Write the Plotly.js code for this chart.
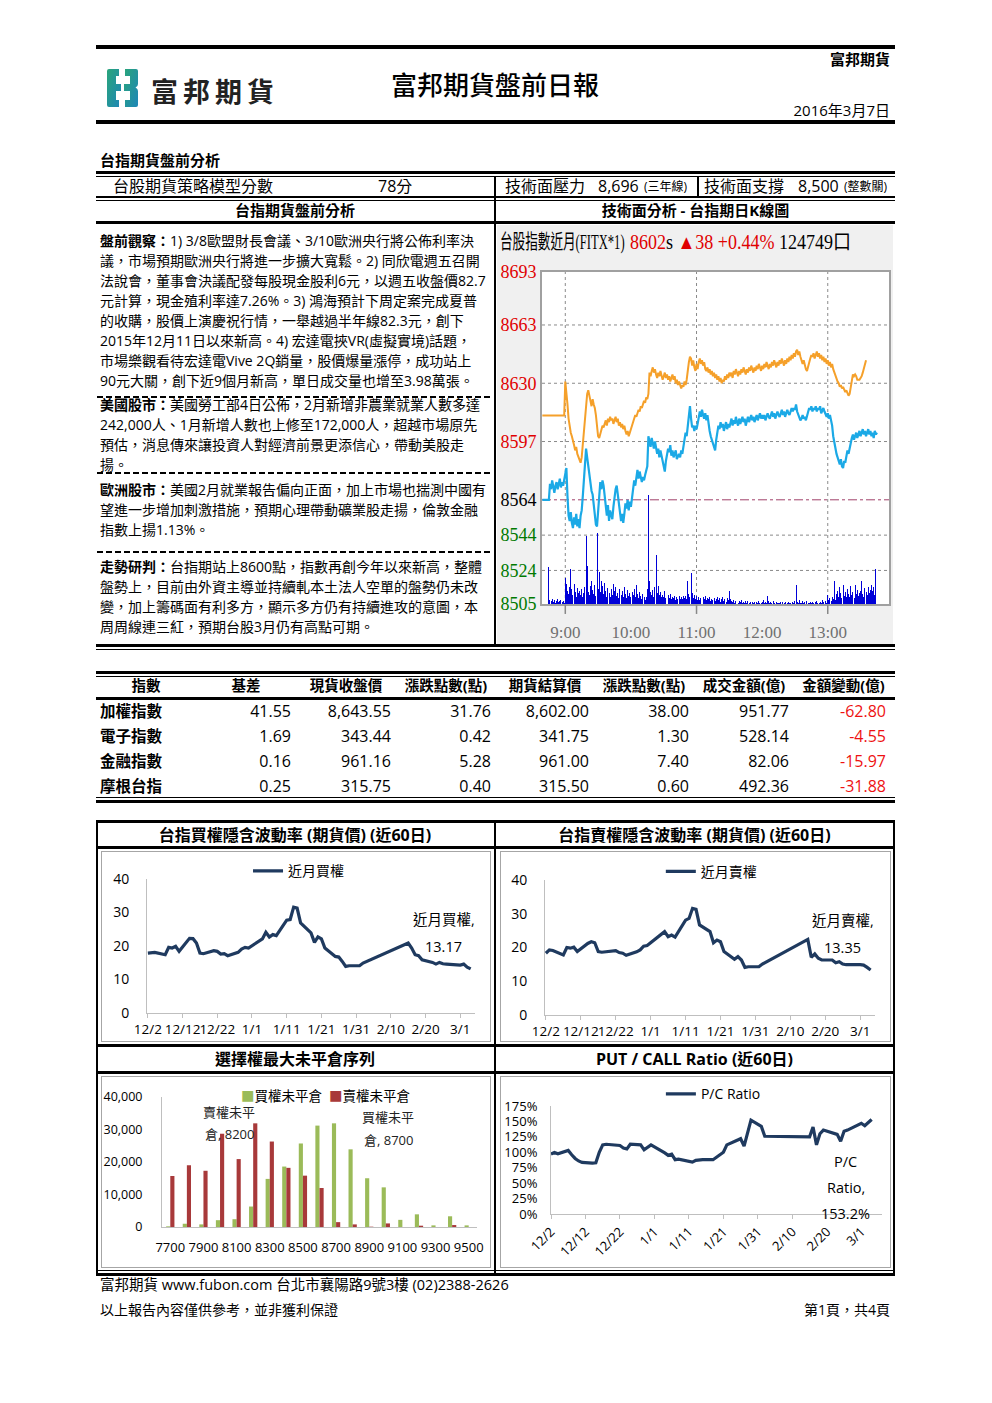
<!DOCTYPE html>
<html lang="zh-Hant"><head><meta charset="utf-8">
<script src="https://cdn.plot.ly/plotly-3.0.1.min.js"></script>
<style>
html,body{margin:0;padding:0;background:#fff;}
#page{position:relative;width:992px;height:1403px;overflow:hidden;font-family:"Open Sans","Noto Sans CJK TC",sans-serif;color:#000;}
.a{position:absolute;white-space:nowrap;line-height:20px;}
.k{position:absolute;background:#000;}
.dash{position:absolute;height:2px;background:repeating-linear-gradient(90deg,#000 0 6px,transparent 6px 9px);}
.box{position:absolute;border:1px solid #a6a6a6;box-sizing:border-box;}
.p{position:absolute;left:100px;font-size:14px;white-space:nowrap;}
.p div{height:20px;line-height:20px;}
.c{position:absolute;}
</style></head><body><div id="page">

<!-- ===== header ===== -->
<div class="k" style="left:96px;top:45px;width:799px;height:4px"></div>
<div class="a" style="right:102px;top:49px;font-size:15px;font-weight:700;">富邦期貨</div>
<svg class="c" style="left:107px;top:69px" width="32" height="38" viewBox="0 0 32 38">
 <defs><linearGradient id="lg" x1="0" y1="0" x2="1" y2="1"><stop offset="0" stop-color="#2aa57a"/><stop offset="1" stop-color="#1e86b8"/></linearGradient></defs>
 <path d="M2 0 H12 V7 H9 V15 H14 V22 H9 V31 H12 V38 H2 Q0 38 0 36 V2 Q0 0 2 0Z" fill="url(#lg)"/>
 <path d="M18 0 H29 Q31 0 31 2 V15 Q31 17.5 28.5 18.5 Q31 19.5 31 22 V36 Q31 38 29 38 H18 V31 H23 V22 H17 V15 H23 V7 H18Z" fill="url(#lg)"/>
</svg>
<div class="a" style="left:151px;top:76px;font-size:27px;line-height:32px;font-weight:700;letter-spacing:5px;color:#222;">富邦期貨</div>
<div class="a" style="left:0;width:990px;text-align:center;top:69px;font-size:26px;line-height:32px;font-weight:500;">富邦期貨盤前日報</div>
<div class="a" style="right:102px;top:100px;font-size:15px;">2016年3月7日</div>
<div class="k" style="left:96px;top:120px;width:799px;height:4px"></div>

<!-- ===== analysis section ===== -->
<div class="a" style="left:100px;top:150px;font-size:15px;font-weight:700;">台指期貨盤前分析</div>
<div class="k" style="left:96px;top:171px;width:799px;height:3px"></div>
<div class="k" style="left:96px;top:176px;width:799px;height:1px"></div>
<div class="a" style="left:113px;top:176px;font-size:16px;">台股期貨策略模型分數</div>
<div class="a" style="left:378px;top:176px;font-size:16px;">78分</div>
<div class="a" style="left:505px;top:176px;font-size:16px;">技術面壓力</div>
<div class="a" style="left:598px;top:176px;font-size:16px;">8,696</div>
<div class="a" style="left:644px;top:177px;font-size:12px;">(三年線)</div>
<div class="a" style="left:704px;top:176px;font-size:16px;">技術面支撐</div>
<div class="a" style="left:798px;top:176px;font-size:16px;">8,500</div>
<div class="a" style="left:844px;top:177px;font-size:12px;">(整數關)</div>
<div class="k" style="left:697px;top:176px;width:2px;height:21px"></div>
<div class="k" style="left:96px;top:196px;width:799px;height:2px"></div>
<div class="k" style="left:96px;top:200px;width:799px;height:1px"></div>
<div class="a" style="left:96px;width:398px;text-align:center;top:200px;font-size:15px;font-weight:700;">台指期貨盤前分析</div>
<div class="a" style="left:496px;width:399px;text-align:center;top:200px;font-size:15px;font-weight:700;">技術面分析 - 台指期日K線圖</div>
<div class="k" style="left:96px;top:221px;width:799px;height:3px"></div>
<div class="k" style="left:494px;top:176px;width:2px;height:470px"></div>

<div class="p" style="top:231px">
<div><b>盤前觀察：</b>1) 3/8歐盟財長會議、3/10歐洲央行將公佈利率決</div>
<div>議，市場預期歐洲央行將進一步擴大寬鬆。2) 同欣電週五召開</div>
<div>法說會，董事會決議配發每股現金股利6元，以週五收盤價82.7</div>
<div>元計算，現金殖利率達7.26%。3) 鴻海預計下周定案完成夏普</div>
<div>的收購，股價上演慶祝行情，一舉越過半年線82.3元，創下</div>
<div>2015年12月11日以來新高。4) 宏達電挾VR(虛擬實境)話題，</div>
<div>市場樂觀看待宏達電Vive 2Q銷量，股價爆量漲停，成功站上</div>
<div>90元大關，創下近9個月新高，單日成交量也增至3.98萬張。</div>
</div>
<div class="dash" style="left:97px;top:396px;width:396px"></div>
<div class="p" style="top:395px">
<div><b>美國股市：</b>美國勞工部4日公佈，2月新增非農業就業人數多達</div>
<div>242,000人、1月新增人數也上修至172,000人，超越市場原先</div>
<div>預估，消息傳來讓投資人對經濟前景更添信心，帶動美股走</div>
<div>揚。</div>
</div>
<div class="dash" style="left:97px;top:472px;width:396px"></div>
<div class="p" style="top:480px">
<div><b>歐洲股市：</b>美國2月就業報告偏向正面，加上市場也揣測中國有</div>
<div>望進一步增加刺激措施，預期心理帶動礦業股走揚，倫敦金融</div>
<div>指數上揚1.13%。</div>
</div>
<div class="dash" style="left:97px;top:551px;width:396px"></div>
<div class="p" style="top:557px">
<div><b>走勢研判：</b>台指期站上8600點，指數再創今年以來新高，整體</div>
<div>盤勢上，目前由外資主導並持續軋本土法人空單的盤勢仍未改</div>
<div>變，加上籌碼面有利多方，顯示多方仍有持續進攻的意圖，本</div>
<div>周周線連三紅，預期台股3月仍有高點可期。</div>
</div>

<!-- intraday chart -->
<div id="intra" class="c" style="left:497px;top:225px;width:396px;height:420px"></div>
<div class="a" style="left:500px;top:230px;font-family:'Liberation Serif','Noto Sans CJK TC',serif;font-size:20px;line-height:24px;transform:scaleX(0.63);transform-origin:0 0;">台股指數近月(FITX*1)</div>
<div id="intraHead" class="a" style="left:630px;top:230px;font-family:'Liberation Serif','Noto Sans CJK TC',serif;font-size:20px;line-height:24px;transform:scaleX(0.9);transform-origin:0 0;"></div>

<div class="k" style="left:96px;top:644px;width:799px;height:3px"></div>
<div class="k" style="left:96px;top:649px;width:799px;height:1px"></div>

<!-- ===== table ===== -->
<div class="k" style="left:96px;top:671px;width:799px;height:3px"></div>
<div class="k" style="left:96px;top:676px;width:799px;height:1px"></div>
<div id="tbl"></div>
<div class="k" style="left:96px;top:697px;width:799px;height:3px"></div>
<div class="k" style="left:96px;top:797px;width:799px;height:1px"></div>
<div class="k" style="left:96px;top:800px;width:799px;height:3px"></div>

<!-- ===== charts grid ===== -->
<div class="k" style="left:96px;top:820px;width:799px;height:3px"></div>
<div class="a" style="left:96px;width:398px;text-align:center;top:825px;font-size:16px;font-weight:700;">台指買權隱含波動率 (期貨價) (近60日)</div>
<div class="a" style="left:496px;width:397px;text-align:center;top:825px;font-size:16px;font-weight:700;">台指賣權隱含波動率 (期貨價) (近60日)</div>
<div class="k" style="left:96px;top:846px;width:799px;height:3px"></div>
<div class="box" style="left:101px;top:851px;width:390px;height:191px"></div>
<div class="box" style="left:500px;top:851px;width:391px;height:191px"></div>
<div id="callIV" class="c" style="left:102px;top:852px;width:388px;height:189px"></div>
<div id="putIV" class="c" style="left:501px;top:852px;width:389px;height:189px"></div>
<div class="k" style="left:96px;top:1044px;width:799px;height:3px"></div>
<div class="a" style="left:96px;width:398px;text-align:center;top:1049px;font-size:16px;font-weight:700;">選擇權最大未平倉序列</div>
<div class="a" style="left:496px;width:397px;text-align:center;top:1049px;font-size:16px;font-weight:700;">PUT / CALL Ratio (近60日)</div>
<div class="k" style="left:96px;top:1071px;width:799px;height:3px"></div>
<div class="box" style="left:101px;top:1076px;width:390px;height:192px"></div>
<div class="box" style="left:500px;top:1076px;width:391px;height:192px"></div>
<div id="oi" class="c" style="left:102px;top:1077px;width:388px;height:190px"></div>
<div id="pc" class="c" style="left:501px;top:1077px;width:389px;height:190px"></div>
<div class="k" style="left:96px;top:820px;width:2px;height:455px"></div>
<div class="k" style="left:494px;top:820px;width:2px;height:455px"></div>
<div class="k" style="left:893px;top:820px;width:2px;height:455px"></div>
<div class="k" style="left:96px;top:1270px;width:799px;height:1px"></div>
<div class="k" style="left:96px;top:1273px;width:799px;height:3px"></div>

<!-- footer -->
<div class="a" style="left:100px;top:1275px;font-size:14.5px;">富邦期貨 www.fubon.com 台北市襄陽路9號3樓 (02)2388-2626</div>
<div class="a" style="left:100px;top:1300px;font-size:14px;">以上報告內容僅供參考，並非獲利保證</div>
<div class="a" style="right:102px;top:1300px;font-size:14px;">第1頁，共4頁</div>
</div>

<script>
// ================= DATA =================
// Intraday (minutes since midnight, 1-minute steps)
const futStart = 519;
const futPrice = [
 8564,8564,8564,8564,8564,8564,8564,
 8573,8570,8575,8571,8568,8572,8574,8570,8573,8576,8571,8574,8572,8575,
 8580,8582,8566,8555,8552,8557,
 8551,8548,8554,8550,8556,8549,8553,8548,8555,8558,
 8566,8576,8586,8593,8588,
 8583,8578,8572,8569,
 8567,8562,8556,8550,8549,8559,
 8568,8574,8570,8575,8572,8566,
 8560,8555,8561,8552,8558,8556,8553,
 8560,8566,8570,8572,8567,8562,
 8558,8552,8556,8551,8556,
 8562,8559,8564,8558,8563,8560,8565,
 8570,8575,8572,8578,8581,8576,8580,8577,8574,
 8577,8575,8578,8580,8583,
 8600,
 8597,8594,8599,8596,8593,8597,8594,
 8590,8593,8588,8592,8589,8586,
 8583,8580,8586,8590,
 8593,8591,8595,8589,8592,8588,8590,8592,8587,8589,
 8590,8588,8592,8590,8595,8598,8602,
 8600,8606,8612,8617,8610,
 8605,8606,8603,8606,8604,8607,
 8612,8614,8611,8615,8612,8610,8613,8609,8612,8606,
 8603,8600,8598,8596,8594,8592,
 8598,8603,8606,8604,8608,8605,8607,8603,8606,8608,8604,8607,
 8605,8608,8610,8606,8609,8607,8611,8608,8606,8610,8607,8609,8611,8608,8610,8606,
 8609,8611,8608,8610,8612,8609,8611,8608,8610,8612,8609,8611,8613,8610,8612,
 8610,8612,8609,8611,8613,8611,8610,8612,8614,8611,8613,8610,8612,8614,8612,
 8611,8613,8615,8612,8614,8611,8613,8615,8613,8612,8614,8616,8614,8616,8615,
 8618,8614,8612,8611,8609,
 8610,8612,8610,8611,8609,
 8612,8614,8616,8615,8617,8614,
 8616,8615,8617,8614,8616,8615,8617,8613,8615,8616,8614,
 8612,8611,8613,8610,8612,8609,8606,
 8600,8596,8592,8590,8588,8586,8584,8587,8583,8582,
 8586,8585,8589,8592,8590,8594,8596,8599,8601,
 8598,8600,8602,8599,8601,8603,8600,8602,8604,8601,8603,8600,
 8602,8604,8601,8603,8600,8602,8599,8603,8601,8602
];
const spotStart = 519;
const spotPrice = [
 8611.79,8611.79,8611.79,8611.79,8611.79,8611.79,8611.79,8611.79,8611.79,8611.79,8611.79,
 8611.79,8611.79,8611.79,8611.79,8611.79,8611.79,8611.79,8611.79,8611.79,8611.79,
 8631,8626,8618,8610,8605,8602,
 8600,8598,8595,8592,8594,8590,8588,8586,8585,8588,
 8595,8603,8612,8620,8624,
 8626,8622,8620,8617,8621,8618,
 8616,8612,8604,8600,
 8599,8602,8604,8606,8605,
 8607,8609,8606,8610,8608,8611,8609,8610,8607,8609,8611,8608,8610,8606,8608,
 8605,8607,8604,8606,8603,8601,8603,8600,8602,8604,
 8606,8608,8610,8612,8611,8613,8615,8614,8617,8616,8618,8620,8619,8622,8621,8624,
 8636,
 8634,8637,8639,8636,8638,8635,8633,8636,8634,8637,8635,8632,8634,8636,8633,
 8635,8632,8634,8631,8633,8635,8632,8634,8630,8632,8629,8631,
 8629,8627,8629,8628,8631,8629,8632,
 8638,8642,8645,8644,8640,8643,8639,8637,8641,
 8638,8642,8644,8641,8643,8640,8642,8638,
 8637,8639,8636,8638,8635,8637,8634,8636,8633,8635,8632,8634,8631,8633,8630,8632,8631,8634,8632,8635,8633,8636,
 8634,8636,8633,8637,8635,8638,8636,8634,8637,8635,8638,8636,8639,8637,8635,
 8638,8636,8639,8637,8640,8638,8636,8639,8637,8640,8638,8641,8639,8637,8640,
 8638,8641,8639,8642,8640,8638,8641,8639,8642,8640,8643,8641,8639,8642,8640,
 8643,8641,8644,8642,8640,8643,8641,8644,8642,8645,8643,8646,8644,8647,8645,
 8648,8649,8646,8648,8645,8643,
 8641,8643,8640,8638,8637,8640,8642,8644,8646,
 8645,8647,8644,8646,8648,8645,8647,8644,8646,8643,8645,8642,
 8644,8641,8643,8640,8642,8639,8641,8638,8636,
 8634,8633,8631,8630,8628,8629,8627,8628,8626,8625,8626,8624,8623,8624,
 8628,8632,8635,8634,8635,8634,
 8632,8632,8632,8633,8634,
 8636,8639,8641,8643
];
const volStart = 525;
const volume = [
 1580,180,120,210,90,150,60,130,200,80,110,170,90,140,60,
 1100,840,560,420,700,1470,620,380,840,520,300,680,450,560,390,
 620,280,450,700,2850,1600,520,380,760,980,600,440,820,350,2980,
 640,1370,500,980,760,420,880,560,300,680,450,280,620,380,840,
 560,720,350,480,260,620,380,540,300,700,420,250,580,330,460,
 280,520,360,640,300,810,420,260,500,350,200,420,280,160,300,
 650,4600,950,520,380,600,300,720,2070,450,740,360,520,280,400,
 300,560,240,1020,380,260,420,200,300,250,340,180,290,220,330,
 210,280,190,320,240,350,200,980,420,300,1300,450,250,380,200,
 320,180,280,150,240,700,300,200,350,160,260,200,310,140,230,
 180,260,120,220,300,150,240,100,200,280,130,190,90,250,160,
 560,220,120,80,180,60,140,100,40,120,70,150,50,90,30,
 110,60,140,40,80,20,100,50,70,0,90,40,120,60,30,
 80,150,40,100,60,350,120,50,90,30,110,60,20,80,40,
 60,30,90,0,70,40,100,20,60,90,30,50,0,80,40,
 120,800,90,40,150,60,30,110,50,80,20,140,60,30,90,
 40,100,60,20,80,130,50,30,90,40,160,70,20,110,60,
 380,150,240,120,300,200,950,180,420,560,300,700,450,260,810,
 350,520,280,640,420,300,760,380,520,250,810,440,600,330,480,
 560,950,420,300,680,520,380,700,450,600,820,550,700,400,1470
];
const refPrice = 8564;
const futLast = 8602, futChange = 38, futPct = 0.44, futVolume = 124749;
const priceTicks = [8693, 8663, 8630, 8597, 8564, 8544, 8524, 8505];
const timeTickVals = [540, 600, 660, 720, 780];
const timeTickText = ['9:00', '10:00', '11:00', '12:00', '13:00'];
const timeGridVals = [540, 660, 780];

// Table
const tblHeaders = ['指數','基差','現貨收盤價','漲跌點數(點)','期貨結算價','漲跌點數(點)','成交金額(億)','金額變動(億)'];
const tblIndex = ['加權指數','電子指數','金融指數','摩根台指'];
const tblBasis = [41.55, 1.69, 0.16, 0.25];
const tblSpot = [8643.55, 343.44, 961.16, 315.75];
const tblSpotChg = [31.76, 0.42, 5.28, 0.40];
const tblFut = [8602.00, 341.75, 961.00, 315.50];
const tblFutChg = [38.00, 1.30, 7.40, 0.60];
const tblAmount = [951.77, 528.14, 82.06, 492.36];
const tblAmtChg = [-62.80, -4.55, -15.97, -31.88];

// Implied volatility & P/C ratio (trading days)
const ivDates = ['2015-12-02','2015-12-03','2015-12-04','2015-12-07','2015-12-08','2015-12-09','2015-12-10','2015-12-11',
 '2015-12-14','2015-12-15','2015-12-16','2015-12-17','2015-12-18','2015-12-21','2015-12-22','2015-12-23','2015-12-24','2015-12-25',
 '2015-12-28','2015-12-29','2015-12-30','2015-12-31',
 '2016-01-04','2016-01-05','2016-01-06','2016-01-07','2016-01-08','2016-01-11','2016-01-12','2016-01-13','2016-01-14','2016-01-15',
 '2016-01-18','2016-01-19','2016-01-20','2016-01-21','2016-01-22','2016-01-25','2016-01-26','2016-01-27','2016-01-28','2016-01-29',
 '2016-02-01','2016-02-02','2016-02-15','2016-02-16','2016-02-17','2016-02-18','2016-02-19','2016-02-22','2016-02-23','2016-02-24',
 '2016-02-25','2016-02-26','2016-03-01','2016-03-02','2016-03-03','2016-03-04'];
const callIV = [17.9,18.1,18.1,17.4,19.6,19.4,19.9,18.4,22.3,22.2,20.9,17.9,17.7,18.6,18.4,17.6,17.7,17.1,18.1,19.1,19.6,19.4,
 22.1,24.1,22.7,23.4,23.1,27.7,27.9,31.6,31.3,26.9,23.9,21.1,22.7,22.1,19.4,16.9,16.7,15.4,13.9,14.1,
 14.1,14.9,20.9,19.4,17.4,17.1,15.9,15.1,14.6,15.1,14.7,14.6,14.3,14.6,13.7,13.17];
const putIV = [18.3,19.3,19.1,17.8,20.0,19.8,20.1,18.8,21.2,21.7,21.4,18.8,18.6,19.0,19.1,18.5,18.3,17.7,18.7,19.3,20.4,20.6,
 23.7,24.7,23.2,23.7,23.1,28.1,28.6,31.6,31.3,26.7,24.7,21.4,22.2,21.7,18.8,16.5,17.3,16.3,14.1,14.3,
 14.3,15.1,22.4,17.1,18.1,16.8,16.3,16.3,15.5,15.8,15.1,14.9,14.9,14.8,14.1,13.35];
const pcRatio = [97,99.6,97.5,103,96,90,86,83.5,82.5,83,100,112,113,112,111,107,105.5,113,112,104,108,112,
 99,95,97,88,89,86,84,87,88,88,88,92,95,100,112,120,122,110,130,152,
 142,126,125,141,112,130,136,131,129,118,134,136,147,143,148,153.2];
const dateTickVals = ['2015-12-02','2015-12-12','2015-12-22','2016-01-01','2016-01-11','2016-01-21','2016-01-31','2016-02-10','2016-02-20','2016-03-01'];
const dateTickText = ['12/2','12/12','12/22','1/1','1/11','1/21','1/31','2/10','2/20','3/1'];

// Open interest by strike
const strikes = [7700,7800,7900,8000,8100,8200,8300,8400,8500,8600,8700,8800,8900,9000,9100,9200,9300,9400,9500];
const callOI = [200,1000,800,2100,2400,6300,14800,18600,25700,31200,31900,23900,15000,12200,2200,3900,500,3300,500];
const putOI = [15700,19000,17300,28700,20900,31900,26300,18200,15800,12000,1500,800,100,1100,0,400,0,600,0];
const strikeLabels = [7700,7900,8100,8300,8500,8700,8900,9100,9300,9500];

// ================= RENDER =================
const CFG = {staticPlot: true};
const SANS = 'Open Sans, Noto Sans CJK TC, sans-serif';
const SERIF = 'Liberation Serif, serif';
const idx = (start, arr) => arr.map((_, i) => start + i);

// header of intraday chart
document.getElementById('intraHead').innerHTML =
  '<span style="color:#e00000">' + futLast + '</span>s <span style="color:#e00000">▲' + futChange +
  ' +' + futPct.toFixed(2) + '%</span> ' + futVolume + '口';

(function intraday() {
  const up = '#e00000', dn = '#007a00';
  const tickText = priceTicks.map(v => '<span style="color:' + (v > refPrice ? up : v < refPrice ? dn : '#000') + '">' + v + '</span>');
  const shapes = [];
  priceTicks.slice(1, -1).forEach(v => {
    shapes.push({type: 'line', xref: 'paper', x0: 0, x1: 1, yref: 'y', y0: v, y1: v, layer: 'below',
      line: v === refPrice ? {color: '#a0406a', width: 1, dash: 'dashdot'} : {color: '#8a8a8a', width: 1, dash: 'dot'}});
  });
  timeGridVals.forEach(t => {
    shapes.push({type: 'line', xref: 'x', x0: t, x1: t, yref: 'paper', y0: 0, y1: 1, layer: 'below', line: {color: '#8a8a8a', width: 1, dash: 'dot'}});
    shapes.push({type: 'line', xref: 'x', x0: t, x1: t, yref: 'paper', y0: -0.002, y1: -0.03, line: {color: '#888', width: 1.5}});
  });
  const traces = [
    {type: 'bar', x: idx(volStart, volume), y: volume, yaxis: 'y2', width: 0.9, marker: {color: '#0000d8', line: {width: 0}}},
    {type: 'scatter', mode: 'lines', x: idx(spotStart, spotPrice), y: spotPrice, line: {color: '#f5a02a', width: 2}},
    {type: 'scatter', mode: 'lines', x: idx(futStart, futPrice), y: futPrice, line: {color: '#1ba9e6', width: 2.2}}
  ];
  const layout = {
    width: 396, height: 420, margin: {l: 44.7, r: 4, t: 46.7, b: 41, pad: 0, autoexpand: false},
    paper_bgcolor: '#f0f0f0', plot_bgcolor: '#fff', showlegend: false, shapes: shapes,
    xaxis: {range: [518.7, 836], tickmode: 'array', tickvals: timeTickVals, ticktext: timeTickText, showgrid: false, zeroline: false,
      ticks: 'outside', ticklen: 12, tickcolor: 'rgba(0,0,0,0)', tickangle: 0,
      tickfont: {family: SERIF, size: 17, color: '#707070'}, showline: true, mirror: true, linecolor: '#a0a0a0', linewidth: 2},
    yaxis: {range: [8505, 8693], tickmode: 'array', tickvals: priceTicks, ticktext: tickText, showgrid: false, zeroline: false,
      tickfont: {family: SERIF, size: 18}, showline: true, mirror: true, linecolor: '#a0a0a0', linewidth: 2, ticks: ''},
    yaxis2: {overlaying: 'y', range: [0, 14000], visible: false},
    bargap: 0
  };
  Plotly.newPlot('intra', traces, layout, CFG);
})();

// table
(function table() {
  const host = document.getElementById('tbl');
  const colL = [96, 196, 296, 396, 496, 594, 694, 794];
  const colW = [100, 100, 100, 100, 98, 100, 100, 99];
  const fmt = v => v.toLocaleString('en-US', {minimumFractionDigits: 2, maximumFractionDigits: 2});
  const add = (html, left, width, cy, style) => {
    const d = document.createElement('div');
    d.className = 'a';
    d.style.cssText = 'left:' + left + 'px;width:' + width + 'px;top:' + (cy - 10) + 'px;' + style;
    d.innerHTML = html; host.appendChild(d);
  };
  tblHeaders.forEach((h, i) => add(h, colL[i], colW[i], 686, 'text-align:center;font-size:14.5px;font-weight:700;'));
  const cols = [tblBasis, tblSpot, tblSpotChg, tblFut, tblFutChg, tblAmount, tblAmtChg];
  tblIndex.forEach((name, r) => {
    const cy = 711 + r * 25;
    add(name, 100, 96, cy, 'font-size:15.5px;font-weight:700;');
    cols.forEach((col, c) => {
      const v = col[r];
      add(fmt(v), colL[c + 1], colW[c + 1] - (c === 6 ? 7 : 5), cy,
        'text-align:right;font-size:16px;' + (v < 0 ? 'color:#ee1111;' : ''));
    });
  });
})();

// implied volatility charts
function ivChart(id, name, vals, m, legX, legY, lblDx) {
  const last = vals.length - 1;
  const layout = {
    width: m.w, height: 189, margin: {l: m.l, r: m.r, t: m.t, b: m.b, pad: 0, autoexpand: false},
    paper_bgcolor: '#fff', plot_bgcolor: '#fff', font: {family: SANS, size: 14, color: '#000'},
    showlegend: true,
    legend: {orientation: 'h', x: legX, y: legY, xanchor: 'left', yanchor: 'middle', font: {size: 14}, itemwidth: 30, bgcolor: 'rgba(0,0,0,0)', borderwidth: 0},
    xaxis: {type: 'date', range: ['2015-12-01 18:00', '2016-03-05 06:00'], tickmode: 'array', tickvals: dateTickVals, ticktext: dateTickText,
      tickangle: 0, ticks: 'outside', ticklen: 4, tickcolor: '#bfbfbf', showline: true, linecolor: '#bfbfbf', linewidth: 1,
      showgrid: false, zeroline: false, tickfont: {size: 13.5}},
    yaxis: {range: [0, 40], dtick: 10, showline: true, linecolor: '#bfbfbf', linewidth: 1, showgrid: false, zeroline: false,
      ticks: 'outside', ticklen: 14, tickcolor: 'rgba(0,0,0,0)', tickfont: {size: 14}},
    annotations: [
      {x: ivDates[last], y: vals[last], text: name + ',', showarrow: false, xshift: lblDx, yshift: 49, font: {size: 14.5}},
      {x: ivDates[last], y: vals[last], text: vals[last].toFixed(2), showarrow: false, xshift: lblDx, yshift: 22.5, font: {size: 14.5}}
    ]
  };
  Plotly.newPlot(id, [{type: 'scatter', mode: 'lines', name: name, x: ivDates, y: vals, line: {color: '#1f3a5f', width: 3.2}}], layout, CFG);
}
ivChart('callIV', '近月買權', callIV, {w: 388, l: 44.7, r: 15, t: 27.3, b: 27.7}, 0.308, 1.057, -27);
ivChart('putIV', '近月賣權', putIV, {w: 389, l: 44, r: 15, t: 28, b: 26}, 0.351, 1.061, -28);

// open interest chart
(function oiChart() {
  const callName = '買權未平倉', putName = '賣權未平倉';
  const cMax = callOI.indexOf(Math.max(...callOI));
  const pMax = putOI.indexOf(Math.max(...putOI));
  const green = '#9bbb59', red = '#a8393a';
  const traces = [
    {type: 'bar', name: callName, x: strikes, y: callOI, marker: {color: green}},
    {type: 'bar', name: putName, x: strikes, y: putOI, marker: {color: red}}
  ];
  const lf = {size: 13, color: '#222'};
  const layout = {
    width: 388, height: 190, margin: {l: 59.7, r: 13.3, t: 19.7, b: 40.3, pad: 0, autoexpand: false},
    paper_bgcolor: '#fff', plot_bgcolor: '#fff', font: {family: SANS, size: 14, color: '#000'},
    showlegend: false, barmode: 'group', bargap: 0.5, bargroupgap: 0,
    xaxis: {type: 'linear', range: [7650, 9550], tickmode: 'array', tickvals: strikeLabels, ticktext: strikeLabels.map(String), tickangle: 0,
      showline: true, linecolor: '#bfbfbf', ticks: 'outside', ticklen: 8, tickcolor: 'rgba(0,0,0,0)', tickfont: {size: 13}, showgrid: false, zeroline: false},
    yaxis: {range: [0, 40000], dtick: 10000, tickformat: ',d', showline: true, linecolor: '#bfbfbf', showgrid: false, zeroline: false,
      ticks: 'outside', ticklen: 16, tickcolor: 'rgba(0,0,0,0)', tickfont: {size: 12.5}},
    annotations: [
      {xref: 'paper', yref: 'paper', x: 0.245, y: 1.005, xanchor: 'left', yanchor: 'middle', showarrow: false, font: {size: 13.5},
       text: '<span style="color:' + green + '">■</span>' + callName + '  <span style="color:' + red + '">■</span>' + putName},
      {x: strikes[pMax], y: putOI[pMax], text: putName.slice(0, 4), showarrow: false, xshift: -24, yshift: 11, font: lf},
      {x: strikes[pMax], y: putOI[pMax], text: putName.slice(4) + ', ' + strikes[pMax], showarrow: false, xshift: -24, yshift: -11, font: lf},
      {x: strikes[cMax], y: callOI[cMax], text: callName.slice(0, 4), showarrow: false, xshift: 52, yshift: 6, font: lf},
      {x: strikes[cMax], y: callOI[cMax], text: callName.slice(4) + ', ' + strikes[cMax], showarrow: false, xshift: 52, yshift: -17, font: lf}
    ]
  };
  Plotly.newPlot('oi', traces, layout, CFG);
})();

// P/C ratio chart
(function pcChart() {
  const last = pcRatio.length - 1;
  const nm = 'P/C Ratio';
  const f = {size: 14.5};
  const layout = {
    width: 389, height: 190, margin: {l: 50, r: 8.3, t: 29, b: 52.7, pad: 0, autoexpand: false},
    paper_bgcolor: '#fff', plot_bgcolor: '#fff', font: {family: SANS, size: 14, color: '#000'},
    showlegend: true,
    legend: {orientation: 'h', x: 0.332, y: 1.108, xanchor: 'left', yanchor: 'middle', font: {size: 14}, itemwidth: 30, bgcolor: 'rgba(0,0,0,0)'},
    xaxis: {type: 'date', range: ['2015-12-02', '2016-03-07'], tickmode: 'array', tickvals: dateTickVals, ticktext: dateTickText,
      tickangle: -45, ticks: 'outside', ticklen: 4, tickcolor: '#bfbfbf', showline: true, linecolor: '#bfbfbf', showgrid: false, zeroline: false,
      tickfont: {size: 13}},
    yaxis: {range: [0, 175], dtick: 25, ticksuffix: '%', showline: true, linecolor: '#bfbfbf', showgrid: false, zeroline: false,
      ticks: 'outside', ticklen: 10, tickcolor: 'rgba(0,0,0,0)', tickfont: {size: 13}},
    annotations: [
      {x: ivDates[last], y: pcRatio[last], text: 'P/C', showarrow: false, xshift: -26, yshift: -42.5, font: f},
      {x: ivDates[last], y: pcRatio[last], text: 'Ratio,', showarrow: false, xshift: -26, yshift: -68.5, font: f},
      {x: ivDates[last], y: pcRatio[last], text: pcRatio[last].toFixed(1) + '%', showarrow: false, xshift: -26, yshift: -94.5, font: f}
    ]
  };
  Plotly.newPlot('pc', [{type: 'scatter', mode: 'lines', name: nm, x: ivDates, y: pcRatio, line: {color: '#1f3a5f', width: 3.2}}], layout, CFG);
})();
</script>
</body></html>
